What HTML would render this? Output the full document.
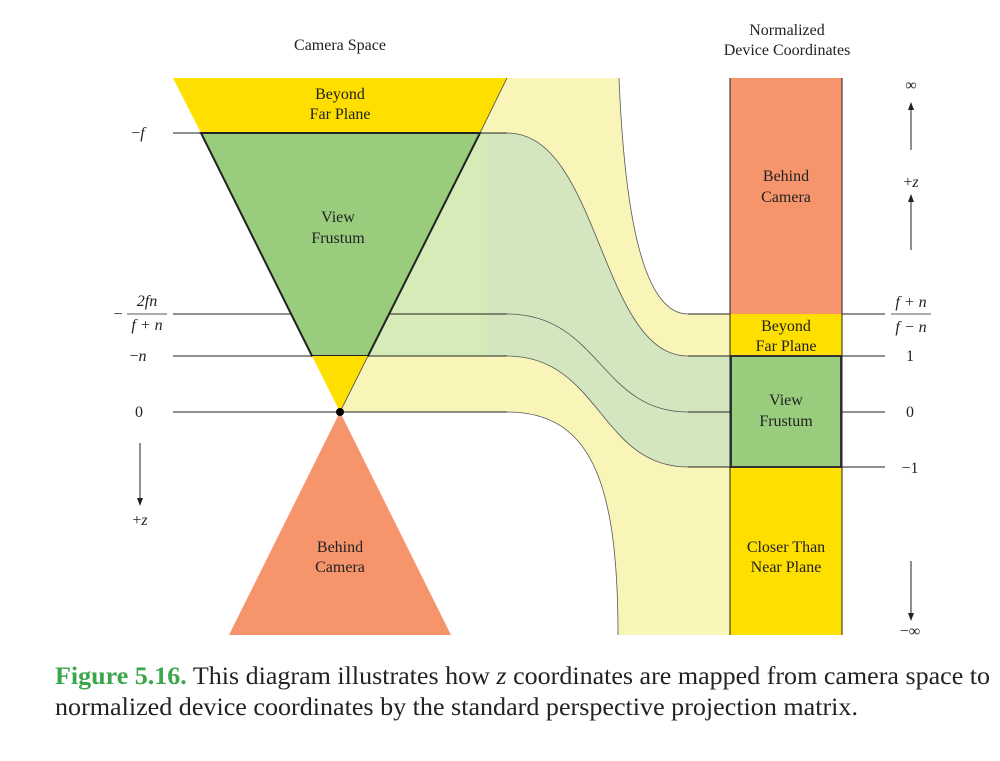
<!DOCTYPE html>
<html><head><meta charset="utf-8"><style>
body{margin:0;background:#fff;}
svg{display:block;font-family:"Liberation Serif",serif;}
.t{font-size:16px;fill:#222;text-anchor:middle;}
.i{font-style:italic;}
</style></head><body>
<svg width="1000" height="761" viewBox="0 0 1000 761">
<g>
<path d="M507,78 L619,78 C624,200 640,314 688,314 L730,314 L730,635 L618,635 C618,480 590,412 507,412 L340,412 Z" fill="#f9f5b9"/>
<path d="M368,356 L480,133 L507,133 C600,133 600,356 688,356 L730,356 L730,467 L688,467 C600,467 600,356 507,356 Z" fill="#d4e6bf"/>
<path d="M368,356 L480,133 L487,133 L487,356 Z" fill="#d6ebb8"/>
</g>
<g fill="none" stroke="#555" stroke-width="0.8">
<path d="M688,314 C640,314 624,200 619,78"/>
<path d="M507,133 C600,133 600,356 688,356"/>
<path d="M507,314 C600,314 600,412 688,412"/>
<path d="M507,356 C600,356 600,467 688,467"/>
<path d="M507,412 C590,412 618,480 618,635"/>
</g>
<g stroke="#222" stroke-width="1">
<line x1="173" y1="133" x2="507" y2="133"/>
<line x1="173" y1="314" x2="507" y2="314"/>
<line x1="173" y1="356" x2="507" y2="356"/>
<line x1="173" y1="412" x2="507" y2="412"/>
<line x1="688" y1="314" x2="885" y2="314"/>
<line x1="688" y1="356" x2="885" y2="356"/>
<line x1="688" y1="412" x2="885" y2="412"/>
<line x1="688" y1="467" x2="885" y2="467"/>
</g>
<g>
<polygon points="173,78 507,78 480,133 201,133" fill="#fedf00"/>
<polygon points="201,133 480,133 368,356 312,356" fill="#99cc7d" stroke="#222" stroke-width="2"/>
<polygon points="312,356 368,356 340,412" fill="#fedf00"/>
<line x1="368" y1="356" x2="340" y2="412" stroke="#444" stroke-width="0.8"/>
<line x1="507" y1="78" x2="480" y2="133" stroke="#444" stroke-width="0.8"/>
<polygon points="340,412 451,635 229,635" fill="#f6956c"/>
<circle cx="340" cy="412" r="4" fill="#000"/>
</g>
<g>
<rect x="730" y="78" width="112" height="236" fill="#f6956c"/>
<rect x="730" y="314" width="112" height="42" fill="#fedf00"/>
<rect x="730" y="467" width="112" height="168" fill="#fedf00"/>
<rect x="731" y="356" width="110" height="111" fill="#99cc7d" stroke="#333" stroke-width="2"/>
<line x1="730" y1="78" x2="730" y2="635" stroke="#222"/>
<line x1="842" y1="78" x2="842" y2="635" stroke="#222"/>
</g>
<g>
<text class="t" x="340" y="99">Beyond</text><text class="t" x="340" y="119">Far Plane</text>
<text class="t" x="338" y="222">View</text><text class="t" x="338" y="243">Frustum</text>
<text class="t" x="340" y="552">Behind</text><text class="t" x="340" y="572">Camera</text>
<text class="t" x="786" y="181">Behind</text><text class="t" x="786" y="202">Camera</text>
<text class="t" x="786" y="331">Beyond</text><text class="t" x="786" y="351">Far Plane</text>
<text class="t" x="786" y="405">View</text><text class="t" x="786" y="426">Frustum</text>
<text class="t" x="786" y="552">Closer Than</text><text class="t" x="786" y="572">Near Plane</text>
</g>
<g>
<text class="t" x="340" y="50">Camera Space</text>
<text class="t" x="787" y="35">Normalized</text>
<text class="t" x="787" y="55">Device Coordinates</text>
</g>
<g>
<text class="t" x="138" y="138">−<tspan class="i">f</tspan></text>
<text class="t" x="118" y="319">−</text>
<text class="t i" x="147" y="306">2<tspan>fn</tspan></text>
<line x1="127" y1="314" x2="167" y2="314" stroke="#222" stroke-width="0.8"/>
<text class="t i" x="147" y="330">f + n</text>
<text class="t" x="138" y="361">−<tspan class="i">n</tspan></text>
<text class="t" x="139" y="417">0</text>
<line x1="140" y1="443" x2="140" y2="500" stroke="#222"/>
<polygon points="137,498 143,498 140,506" fill="#222"/>
<text class="t" x="140" y="525">+<tspan class="i">z</tspan></text>
</g>
<g>
<text class="t" x="911" y="90">∞</text>
<line x1="911" y1="108" x2="911" y2="150" stroke="#222"/>
<polygon points="908,110 914,110 911,102" fill="#222"/>
<text class="t" x="911" y="187">+<tspan class="i">z</tspan></text>
<line x1="911" y1="200" x2="911" y2="250" stroke="#222"/>
<polygon points="908,202 914,202 911,194" fill="#222"/>
<text class="t i" x="911" y="307">f + n</text>
<line x1="891" y1="314" x2="931" y2="314" stroke="#222" stroke-width="0.8"/>
<text class="t i" x="911" y="332">f − n</text>
<text class="t" x="910" y="361">1</text>
<text class="t" x="910" y="417">0</text>
<text class="t" x="910" y="473">−1</text>
<line x1="911" y1="561" x2="911" y2="615" stroke="#222"/>
<polygon points="908,613 914,613 911,621" fill="#222"/>
<text class="t" x="910" y="636">−∞</text>
</g>
<g style="font-size:25px;">
<text x="55" y="684" fill="#222" textLength="935" lengthAdjust="spacingAndGlyphs"><tspan font-weight="bold" fill="#3ca64b">Figure 5.16.</tspan> This diagram illustrates how <tspan font-style="italic">z</tspan> coordinates are mapped from camera space to</text>
<text x="55" y="715" fill="#222" textLength="803" lengthAdjust="spacingAndGlyphs">normalized device coordinates by the standard perspective projection matrix.</text>
</g>
</svg>
</body></html>
